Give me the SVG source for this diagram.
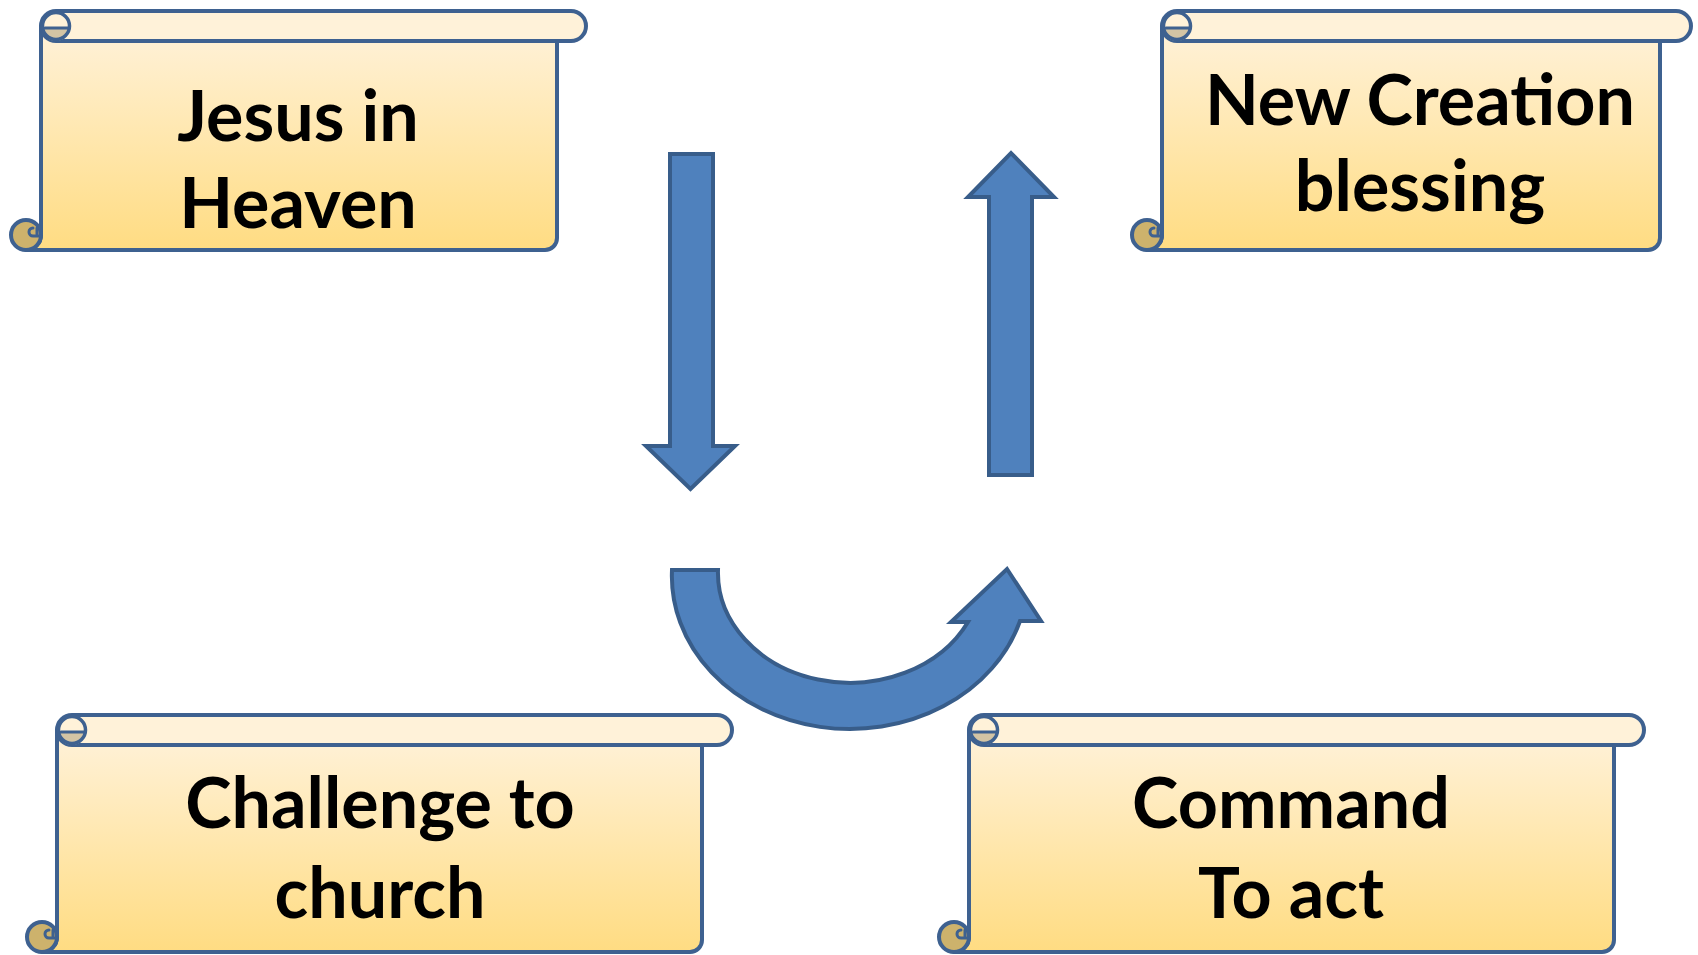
<svg xmlns="http://www.w3.org/2000/svg" width="1698" height="955" viewBox="0 0 1698 955">
<defs>
<linearGradient id="bodyGrad" x1="0" y1="0" x2="0" y2="1">
<stop offset="0" stop-color="#FFF2DA"/>
<stop offset="1" stop-color="#FFDC82"/>
</linearGradient>
<style>
.edge{stroke:#3E6190;stroke-width:4;stroke-linejoin:round}
.body{fill:url(#bodyGrad)}
.roll{fill:#FFF2D9}
.curlTop{fill:#D3C4A4}
.curlBot{fill:#CDB26C}
.ring{fill:none;stroke:#3E6190;stroke-width:3.5}
.thin{fill:none;stroke:#3E6190;stroke-width:3;stroke-linecap:round}
.lbl{font-family:Lato,"Open Sans","Liberation Sans",sans-serif;font-weight:bold;font-size:70px;fill:#000;text-anchor:middle}
.arrow{fill:#4F81BD;stroke:#385D8A;stroke-width:4;stroke-linejoin:miter}
</style>
</defs>
<rect width="1698" height="955" fill="#FFFFFF"/>

<g id="connectors">
<path class="arrow" d="M670 154 L713 154 L713 446 L735 446 L690.5 489 L646 446 L670 446 Z"/>
<path class="arrow" d="M989 475 L1032 475 L1032 197 L1054 197 L1011 153 L968 197 L989 197 Z"/>
<path class="arrow" d="M672 570 L718 570 A132 110 0 0 0 968 622 L951 622 L1007 569 L1041 621 L1020 621 A178 153 0 0 1 672 570 Z"/>
</g>

<g id="node-jesus">
<path class="body edge" d="M41 26 L41 235 A15 15 0 0 1 26 250 L545 250 A12 12 0 0 0 557 238 L557 41 Z"/>
<rect class="roll edge" x="41" y="11" width="545" height="30" rx="15" ry="15"/>
<path class="curlTop" d="M43 28 L69 28 A13 13 0 0 1 43 28 Z"/>
<circle class="ring" cx="56" cy="26" r="13.5"/>
<path class="thin" d="M45 28 L69 28"/>
<circle class="curlBot edge" cx="26" cy="235" r="15"/>
<path class="thin" d="M37 228 L37 234 M33 228 A4 4 0 0 0 33 236 L41 236"/>
<text class="lbl" x="298" y="141">Jesus in</text>
<text class="lbl" x="298" y="228">Heaven</text>
</g>

<g id="node-newcreation">
<path class="body edge" d="M1162 26 L1162 235 A15 15 0 0 1 1147 250 L1648 250 A12 12 0 0 0 1660 238 L1660 41 Z"/>
<rect class="roll edge" x="1162" y="11" width="529" height="30" rx="15" ry="15"/>
<path class="curlTop" d="M1164 28 L1190 28 A13 13 0 0 1 1164 28 Z"/>
<circle class="ring" cx="1177" cy="26" r="13.5"/>
<path class="thin" d="M1166 28 L1190 28"/>
<circle class="curlBot edge" cx="1147" cy="235" r="15"/>
<path class="thin" d="M1158 228 L1158 234 M1154 228 A4 4 0 0 0 1154 236 L1162 236"/>
<text class="lbl" x="1420" y="125">New Creation</text>
<text class="lbl" x="1420" y="211">blessing</text>
</g>

<g id="node-challenge">
<path class="body edge" d="M57 730 L57 937 A15 15 0 0 1 42 952 L690 952 A12 12 0 0 0 702 940 L702 745 Z"/>
<rect class="roll edge" x="57" y="715" width="675" height="30" rx="15" ry="15"/>
<path class="curlTop" d="M59 732 L85 732 A13 13 0 0 1 59 732 Z"/>
<circle class="ring" cx="72" cy="730" r="13.5"/>
<path class="thin" d="M61 732 L85 732"/>
<circle class="curlBot edge" cx="42" cy="937" r="15"/>
<path class="thin" d="M53 930 L53 936 M49 930 A4 4 0 0 0 49 938 L57 938"/>
<text class="lbl" x="380" y="828">Challenge to</text>
<text class="lbl" x="380" y="918">church</text>
</g>

<g id="node-command">
<path class="body edge" d="M969 730 L969 937 A15 15 0 0 1 954 952 L1602 952 A12 12 0 0 0 1614 940 L1614 745 Z"/>
<rect class="roll edge" x="969" y="715" width="675" height="30" rx="15" ry="15"/>
<path class="curlTop" d="M971 732 L997 732 A13 13 0 0 1 971 732 Z"/>
<circle class="ring" cx="984" cy="730" r="13.5"/>
<path class="thin" d="M973 732 L997 732"/>
<circle class="curlBot edge" cx="954" cy="937" r="15"/>
<path class="thin" d="M965 930 L965 936 M961 930 A4 4 0 0 0 961 938 L969 938"/>
<text class="lbl" x="1291" y="828">Command</text>
<text class="lbl" x="1291" y="918">To act</text>
</g>
</svg>
